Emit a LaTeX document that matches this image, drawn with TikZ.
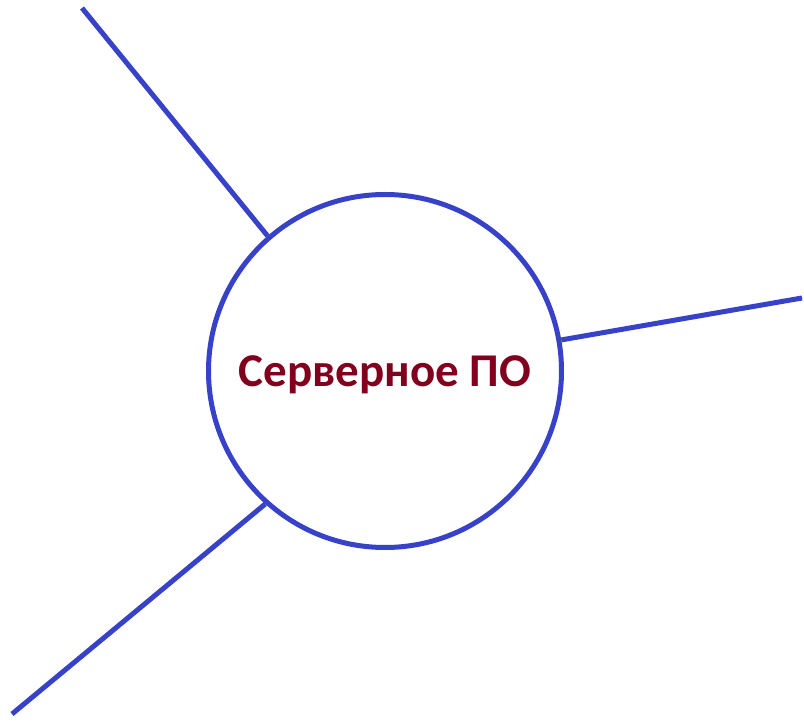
\documentclass[tikz,border=0pt]{standalone}
\usepackage{fontspec}
\usepackage{xcolor}
\usetikzlibrary{shapes.geometric,positioning}
\newfontfamily\srvfont{Carlito}
\definecolor{linkblue}{RGB}{55,66,200}
\definecolor{srvred}{RGB}{128,0,30}

\begin{document}
\begin{tikzpicture}[
    x=1pt, y=1pt,
    % Define styles
    server/.style={circle, draw=linkblue, line width=5pt, fill=white, minimum size=353pt, text depth=0pt, text centered, text=srvred, font=\srvfont\bfseries\fontsize{47}{50}\selectfont},
    link/.style={draw=linkblue, line width=5pt}
]
\useasboundingbox (0,0) rectangle (804,721);

% Central node
\node[server] (srv) at (385,350) {Серверное ПО};

% Free ends of the links
\coordinate (tl) at (82,713);
\coordinate (rt) at (802,423);
\coordinate (bl) at (12,7);

% Links
\draw[link] (tl) -- (srv.131);
\draw[link] (rt) -- (srv.10.6);
\draw[link] (bl) -- (srv.228);

\end{tikzpicture}
\end{document}
